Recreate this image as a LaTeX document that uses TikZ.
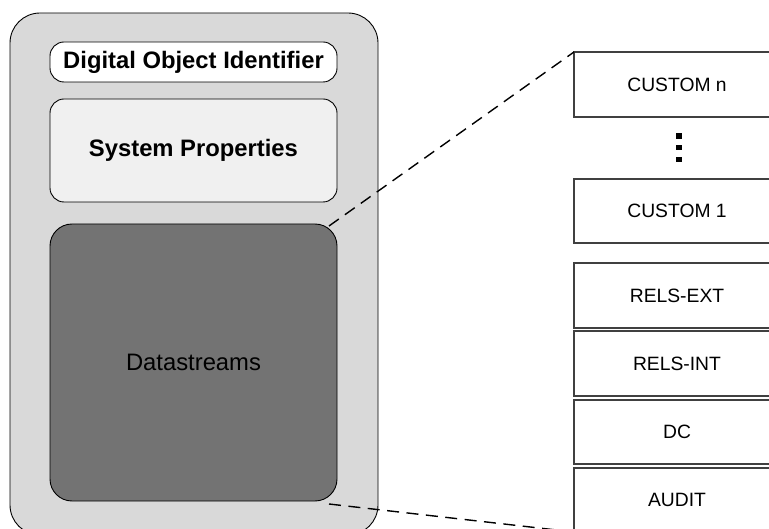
\documentclass[tikz,border=0pt]{standalone}
\usepackage{fontspec}
\setmainfont{Liberation Sans}
\usetikzlibrary{calc}
\definecolor{objgray}{HTML}{D9D9D9}
\definecolor{propgray}{HTML}{F0F0F0}
\definecolor{dsgray}{HTML}{737373}
\tikzset{
  panel/.style={draw=black, line width=0.9pt, inner sep=0pt, outer sep=0pt, anchor=center},
  bigtext/.style={font=\fontsize{23.8}{28}\selectfont},
  dsbox/.style={draw=black!75, line width=1.1pt, fill=white, inner sep=0pt, outer sep=0pt,
    minimum width=206pt, font=\fontsize{19.3}{23}\selectfont},
  zoomline/.style={line width=1.4pt, dash pattern=on 12pt off 7.5pt}
}
\begin{document}
\begin{tikzpicture}[x=1pt, y=-1pt]
\useasboundingbox (0,0) rectangle (769,529);
\clip (0,0) rectangle (769,529);

% digital object container
\node[panel, fill=objgray, rounded corners=30pt, minimum width=368pt, minimum height=522pt] (obj) at (194,274) {};
\node[panel, fill=white, rounded corners=14pt, minimum width=287pt, minimum height=40pt, bigtext] (doi) at (193.5,62) {\textbf{Digital Object Identifier}};
\node[panel, fill=propgray, rounded corners=14pt, minimum width=287pt, minimum height=103pt, bigtext] (props) at (193.5,150.5) {\textbf{System Properties}};
\node[panel, fill=dsgray, rounded corners=22pt, minimum width=287pt, minimum height=277pt, bigtext] (ds) at (193.5,362.5) {Datastreams};

% datastream stack
\node[dsbox, minimum height=65pt] (cn) at (677,84.5) {CUSTOM n};
\node[dsbox, minimum height=64pt] (c1) at (677,211) {CUSTOM 1};
\node[dsbox, minimum height=65pt] (relsext) at (677,295.5) {RELS-EXT};
\node[dsbox, minimum height=65pt] (relsint) at (677,363.5) {RELS-INT};
\node[dsbox, minimum height=64pt] (dc) at (677,432) {DC};
\node[dsbox, minimum height=64pt] (audit) at (677,500) {AUDIT};

% vertical ellipsis between the custom datastreams
\foreach \yy in {136,147.5,159.5}
  \fill[black] (675.7,\yy-2.8) rectangle (681.5,\yy+2.8);

% zoom lines
\draw[zoomline] ($(ds.north east)+(-8,2)$) -- (cn.north west);
\draw[zoomline] ($(ds.south east)+(-8,3)$) -- (audit.south west);
\end{tikzpicture}
\end{document}
